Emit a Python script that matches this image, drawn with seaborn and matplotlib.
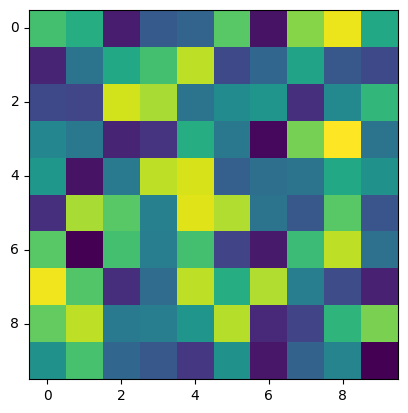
import matplotlib
matplotlib.use("Agg")
import matplotlib.pyplot as plt
import seaborn as sns
import numpy as np

# values, 0..1 on viridis
row0 = [0.70, 0.62, 0.08, 0.28, 0.32, 0.74, 0.05, 0.82, 0.97, 0.60]
row1 = [0.10, 0.38, 0.60, 0.70, 0.90, 0.22, 0.33, 0.58, 0.27, 0.22]
row2 = [0.22, 0.21, 0.93, 0.87, 0.38, 0.48, 0.52, 0.14, 0.47, 0.66]
row3 = [0.46, 0.40, 0.10, 0.15, 0.62, 0.40, 0.02, 0.79, 1.00, 0.38]
row4 = [0.53, 0.05, 0.41, 0.90, 0.94, 0.30, 0.36, 0.38, 0.60, 0.50]
row5 = [0.14, 0.87, 0.74, 0.43, 0.95, 0.88, 0.38, 0.27, 0.74, 0.26]
row6 = [0.74, 0.00, 0.70, 0.42, 0.70, 0.20, 0.07, 0.68, 0.90, 0.37]
row7 = [0.98, 0.73, 0.13, 0.35, 0.90, 0.62, 0.88, 0.42, 0.23, 0.09]
row8 = [0.76, 0.90, 0.41, 0.42, 0.52, 0.89, 0.11, 0.20, 0.65, 0.80]
row9 = [0.50, 0.71, 0.33, 0.27, 0.16, 0.50, 0.06, 0.31, 0.45, 0.00]

data = np.array([row0, row1, row2, row3, row4, row5, row6, row7, row8, row9])
tick_labels = [0, 2, 4, 6, 8]

fig = plt.figure(figsize=(4.08, 4.13), dpi=100)
ax = fig.add_axes([29/408, 34/413, 369/408, 369/413])
sns.heatmap(data, cmap="viridis", cbar=False, ax=ax, vmin=0, vmax=1)

ax.set_xticks([t + 0.5 for t in tick_labels])
ax.set_xticklabels(tick_labels, rotation=0)
ax.set_yticks([t + 0.5 for t in tick_labels])
ax.set_yticklabels(tick_labels, rotation=0)
ax.tick_params(length=3.5, width=0.8, labelsize=10)
for s in ax.spines.values():
    s.set_visible(True)
    s.set_linewidth(0.8)

fig.savefig("out.png", dpi=100)
